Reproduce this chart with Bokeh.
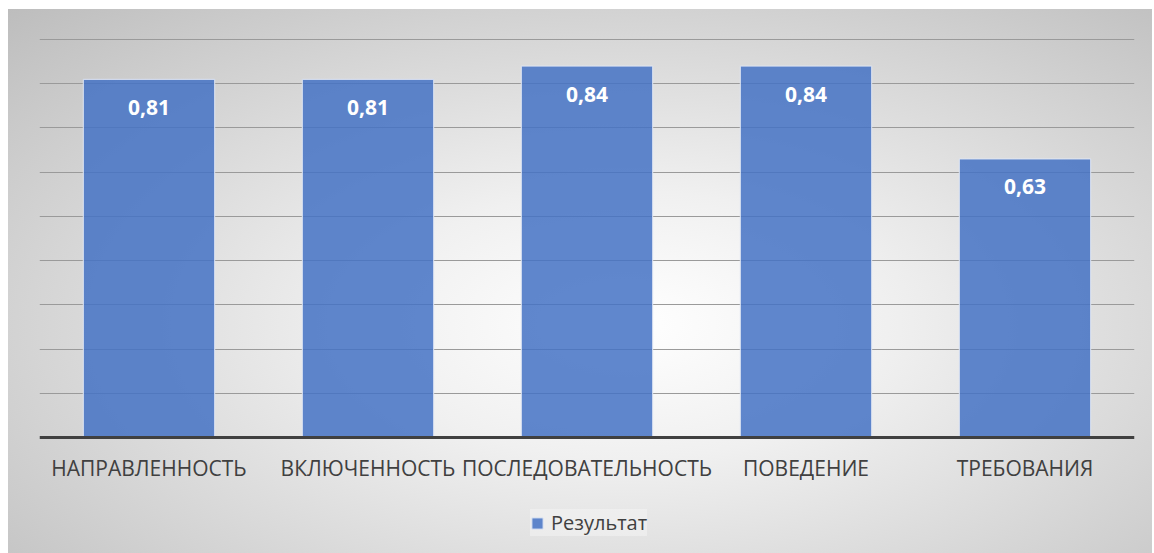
from bokeh.plotting import figure
from bokeh.models import FixedTicker, Legend, LegendItem, Span
from bokeh.core.properties import value
from bokeh.embed import file_html
from bokeh.resources import INLINE

categories = ["НАПРАВЛЕННОСТЬ", "ВКЛЮЧЕННОСТЬ", "ПОСЛЕДОВАТЕЛЬНОСТЬ", "ПОВЕДЕНИЕ", "ТРЕБОВАНИЯ"]
values = [0.81, 0.81, 0.84, 0.84, 0.63]
value_labels = ["0,81", "0,81", "0,84", "0,84", "0,63"]
series_name = "Результат"
grid_ticks = [0.1, 0.2, 0.3, 0.4, 0.5, 0.6, 0.7, 0.8, 0.9]

p = figure(
    x_range=categories, y_range=(-0.2624, 0.968),
    width=1144, height=544,
    output_backend="svg", toolbar_location=None,
    min_border_left=31, min_border_right=18, min_border_top=0, min_border_bottom=0,
    background_fill_alpha=0, border_fill_alpha=0, outline_line_color=None,
)
p.margin = (9, 2, 0, 8)
p.styles = {"background": "radial-gradient(ellipse farthest-corner at 54% 58%, #ffffff 0%, #f0f0f0 30%, #bdbdbd 100%)"}

r = p.vbar(x=categories, top=values, width=0.6, fill_color="#4472C4", fill_alpha=0.85,
           line_color="#dfe6f4", line_width=1)

p.text(x=categories, y=values, text=value_labels, y_offset=28,
       text_align="center", text_baseline="middle", text_color="white",
       text_font=value("Open Sans"), text_font_size="21px", text_font_style="bold")

p.text(x=categories, y=[0] * len(categories), text=categories, y_offset=31,
       text_align="center", text_baseline="middle", text_color="#404040",
       text_font=value("Open Sans"), text_font_size="21px")

p.xaxis.visible = False
p.yaxis.visible = False
p.ygrid.ticker = FixedTicker(ticks=grid_ticks)
p.ygrid.grid_line_color = "#9a9a9a"
p.ygrid.grid_line_width = 1
p.xgrid.grid_line_color = None

p.add_layout(Span(location=0, dimension="width", line_color="#404040", line_width=3))

legend = Legend(items=[LegendItem(label=series_name, renderers=[r])],
                location=(491, 17), orientation="horizontal",
                label_text_font="Open Sans", label_text_font_size="20px",
                label_text_color="#404040", glyph_width=14, glyph_height=14,
                label_standoff=7, padding=12, margin=0,
                background_fill_color="#f6f6f6", background_fill_alpha=0.5,
                border_line_color=None)
p.add_layout(legend)

open("out.html", "w").write(file_html(p, INLINE))
